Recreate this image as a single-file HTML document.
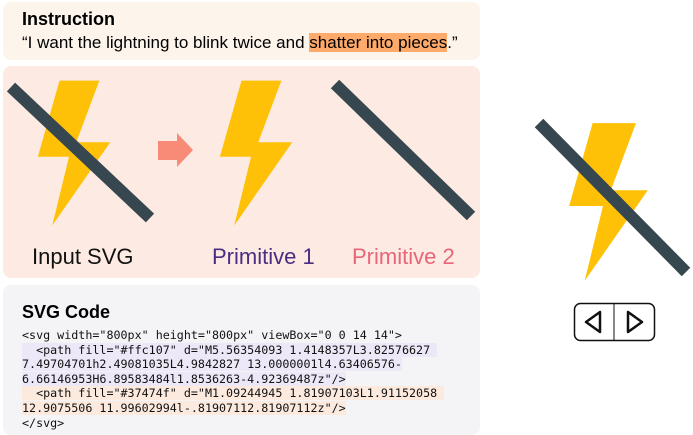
<!DOCTYPE html>
<html><head><meta charset="utf-8"><style>
body{margin:0;width:693px;height:432px;background:#fff;position:relative;overflow:hidden;font-family:"Liberation Sans",sans-serif}
.p{position:absolute;border-radius:8px}
.t{position:absolute;white-space:pre}
.code{position:absolute;left:22px;top:328px;font-family:"DejaVu Sans Mono","Liberation Mono",monospace;font-size:11.7px;line-height:14.6px;color:#111;white-space:pre}
.hp{background:#ece8f7}.ho{background:#fdeadf}
</style></head><body>
<div class="p" style="left:3px;top:2px;width:477px;height:58px;background:#fdf4ec"></div>
<div class="p" style="left:3px;top:66px;width:477px;height:212px;background:#fdeae2"></div>
<div class="p" style="left:3px;top:285px;width:477px;height:150px;background:#f4f4f7"></div>
<div class="t" style="left:22px;top:9px;font-size:18px;font-weight:bold">Instruction</div>
<div class="t" style="left:22px;top:33px;font-size:17px">“I want the lightning to blink twice and <span style="background:#fdaa6a">shatter into pieces</span>.”</div>
<div class="t" style="left:22px;top:302px;font-size:18px;font-weight:bold">SVG Code</div>
<div class="code">&lt;svg width="800px" height="800px" viewBox="0 0 14 14"&gt;
<span class="hp">  &lt;path fill="#ffc107" d="M5.56354093 1.4148357L3.82576627 </span>
<span class="hp">7.49704701h2.49081035L4.9842827 13.0000001l4.63406576-</span>
<span class="hp">6.66146953H6.89583484l1.8536263-4.92369487z"/&gt;</span>
<span class="ho">  &lt;path fill="#37474f" d="M1.09244945 1.81907103L1.91152058 </span>
<span class="ho">12.9075506 11.99602994l-.81907112.81907112z"/&gt;</span>
&lt;/svg&gt;</div>
<svg width="693" height="432" style="position:absolute;left:0;top:0">
<defs><polygon id="b" points="5.56,1.41 3.83,7.50 6.32,7.50 4.98,13.0 9.62,6.34 6.90,6.34 8.75,1.41" fill="#ffc107"/></defs>
<use href="#b" transform="translate(-10,63) scale(12.5)"/>
<line x1="11" y1="87" x2="150" y2="218" stroke="#37474f" stroke-width="12"/>
<polygon points="158,141 177,141 177,133 193,150 177,167 177,160 158,160" fill="#f78b78"/>
<use href="#b" transform="translate(172,63) scale(12.5)"/>
<line x1="335" y1="84" x2="471" y2="216" stroke="#37474f" stroke-width="12"/>
<use href="#b" transform="translate(517,104) scale(13.6)"/>
<line x1="539" y1="123" x2="686" y2="272" stroke="#37474f" stroke-width="12"/>
<rect x="574.5" y="303.5" width="80" height="37" rx="6" fill="#fff" stroke="#111" stroke-width="1.5"/>
<line x1="614" y1="304" x2="614" y2="340" stroke="#111" stroke-width="1"/>
<polygon points="600,312 600,332 586,322" fill="none" stroke="#111" stroke-width="2.5" stroke-linejoin="round"/>
<polygon points="628,312 628,332 642,322" fill="none" stroke="#111" stroke-width="2.5" stroke-linejoin="round"/>
</svg>
<div class="t" style="left:32px;top:244px;font-size:22px;color:#111">Input SVG</div>
<div class="t" style="left:212px;top:244px;font-size:22px;color:#4b2e83">Primitive 1</div>
<div class="t" style="left:352px;top:244px;font-size:22px;color:#e8657a">Primitive 2</div>
</body></html>
